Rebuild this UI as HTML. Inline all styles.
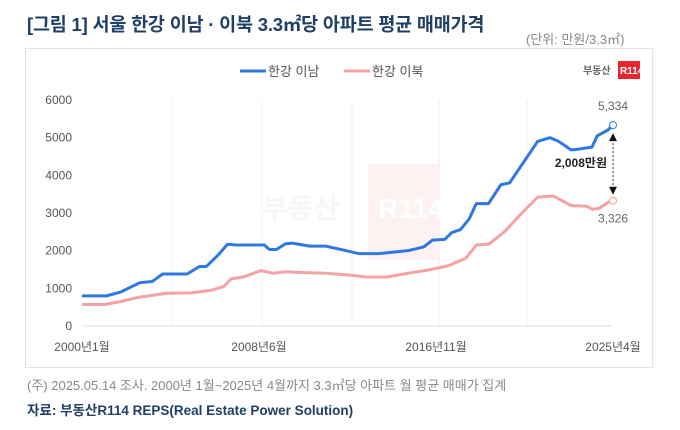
<!DOCTYPE html>
<html><head><meta charset="utf-8"><style>
body{margin:0;width:680px;height:430px;background:#fff;font-family:"Liberation Sans","Noto Sans CJK KR",sans-serif;position:relative;overflow:hidden}
.t{position:absolute;white-space:nowrap}
</style></head><body>
<div class="t" style="left:27px;top:11px;font-size:18.5px;font-weight:bold;color:#1f3f66;letter-spacing:-0.2px">[그림 1] 서울 한강 이남 · 이북 3.3㎡당 아파트 평균 매매가격</div>
<div class="t" style="left:526px;top:29px;font-size:13px;color:#888">(단위: 만원/3.3㎡)</div>
<div style="position:absolute;left:25px;top:48px;width:626px;height:318px;border:1px solid #e4e4e4"></div>
<svg id="c" width="680" height="430" style="position:absolute;left:0;top:0"></svg>
<div class="t" style="left:27px;top:375px;font-size:13px;color:#888">(주) 2025.05.14 조사. 2000년 1월~2025년 4월까지 3.3㎡당 아파트 월 평균 매매가 집계</div>
<div class="t" style="left:27px;top:399px;font-size:13.5px;font-weight:bold;color:#1f3f66">자료: 부동산R114 REPS(Real Estate Power Solution)</div>
<script>
const yTicks=[0,1000,2000,3000,4000,5000,6000];
const xLabels=["2000년1월","2008년6월","2016년11월","2025년4월"];
const xLabelMonths=[0,101,202,303];
const southMonths=[0,14,22,33,40,46,60,67,71,78,83,88,104,107,111,116,120,130,139,148,158,169,186,195,200,207,211,216,221,225,232,239,244,260,267,272,279,281,291,294,300,303];
const southValues=[800,800,900,1150,1180,1380,1380,1580,1580,1900,2170,2150,2150,2030,2030,2180,2200,2120,2120,2030,1920,1920,2000,2100,2280,2300,2480,2560,2850,3250,3250,3750,3800,4900,5000,4900,4680,4680,4750,5050,5200,5334];
const northMonths=[0,13,22,32,41,48,62,74,81,85,92,102,109,116,125,139,153,162,174,186,197,209,219,225,232,241,251,260,269,279,288,291,295,300,303];
const northValues=[570,570,650,760,820,870,880,950,1050,1250,1300,1470,1400,1440,1420,1400,1350,1300,1300,1400,1480,1600,1800,2150,2170,2500,3000,3420,3450,3200,3180,3100,3120,3280,3326];
const NS="http://www.w3.org/2000/svg",svg=document.getElementById('c');
const X=m=>82+m*531/303, Y=v=>326-v*226/6000;
function mk(t,a,txt){const e=document.createElementNS(NS,t);for(const k in a)e.setAttribute(k,a[k]);if(txt!==undefined)e.textContent=txt;svg.appendChild(e);return e;}
[172,262,352,439,527].forEach(x=>{const g=mk('line',{x1:x,x2:x,y1:100,y2:326,stroke:'#f2f2f2'});

});
const wb=mk('rect',{x:368,y:164,width:72,height:96,fill:'#fdf1f1'});


const wt=mk('text',{x:262,y:218,'font-size':28,'font-weight':'bold',fill:'#f6f6f6'},'부동산');


const wr=mk('text',{x:378,y:218,'font-size':28,'font-weight':'bold',fill:'#fff'},'R114');


mk('line',{x1:82,x2:613,y1:326,y2:326,stroke:'#ddd'});
yTicks.forEach(v=>{const t=mk('text',{x:72,y:Y(v)+4,'text-anchor':'end','font-size':12,fill:'#555'},v);

});
xLabels.forEach((l,i)=>{const t=mk('text',{x:X(xLabelMonths[i]),y:351,'text-anchor':'middle','font-size':12,fill:'#555'},l);

});
function line(ms,vs,col,name){const p=mk('polyline',{points:ms.map((m,i)=>X(m)+','+Y(vs[i])).join(' '),fill:'none',stroke:col,'stroke-width':3,'stroke-linejoin':'round'});

}
line(northMonths,northValues,'#f4a3a3','north-series-line');
line(southMonths,southValues,'#2f78e0','south-series-line');
const sl=southValues[southValues.length-1],nl=northValues[northValues.length-1];
const c1=mk('circle',{cx:X(303),cy:Y(sl),r:3.5,fill:'#fff',stroke:'#2f78e0'});

const c2=mk('circle',{cx:X(303),cy:Y(nl),r:3.5,fill:'#fff',stroke:'#f0a080'});

const l1=mk('text',{x:X(303),y:Y(sl)-15,'text-anchor':'middle','font-size':12,fill:'#666'},sl.toLocaleString());

const l2=mk('text',{x:X(303),y:Y(nl)+22,'text-anchor':'middle','font-size':12,fill:'#666'},nl.toLocaleString());

const ar=mk('line',{x1:X(303),x2:X(303),y1:Y(sl)+14,y2:Y(nl)-12,stroke:'#333','stroke-dasharray':'2,2'});

mk('polygon',{points:`${X(303)-4},${Y(sl)+16} ${X(303)+4},${Y(sl)+16} ${X(303)},${Y(sl)+8}`,fill:'#111'});
mk('polygon',{points:`${X(303)-4},${Y(nl)-14} ${X(303)+4},${Y(nl)-14} ${X(303)},${Y(nl)-6}`,fill:'#111'});
const gl=mk('text',{x:X(303)-6,y:(Y(sl)+Y(nl))/2+4,'text-anchor':'end','font-size':12,'font-weight':'bold',fill:'#222'},(sl-nl).toLocaleString()+'만원');

mk('line',{x1:240,x2:266,y1:71,y2:71,stroke:'#2f78e0','stroke-width':3});
mk('text',{x:268,y:76,'font-size':13,fill:'#555'},'한강 이남');
mk('line',{x1:344,x2:370,y1:71,y2:71,stroke:'#f4a3a3','stroke-width':3});
mk('text',{x:372,y:76,'font-size':13,fill:'#555'},'한강 이북');
mk('text',{x:583,y:74,'font-size':10,'font-weight':'bold',fill:'#666'},'부동산');
mk('rect',{x:618,y:61,width:22,height:18,fill:'#e8262f'});
mk('text',{x:620,y:74,'font-size':10,'font-weight':'bold',fill:'#fff'},'R114');
</script>
</body></html>
